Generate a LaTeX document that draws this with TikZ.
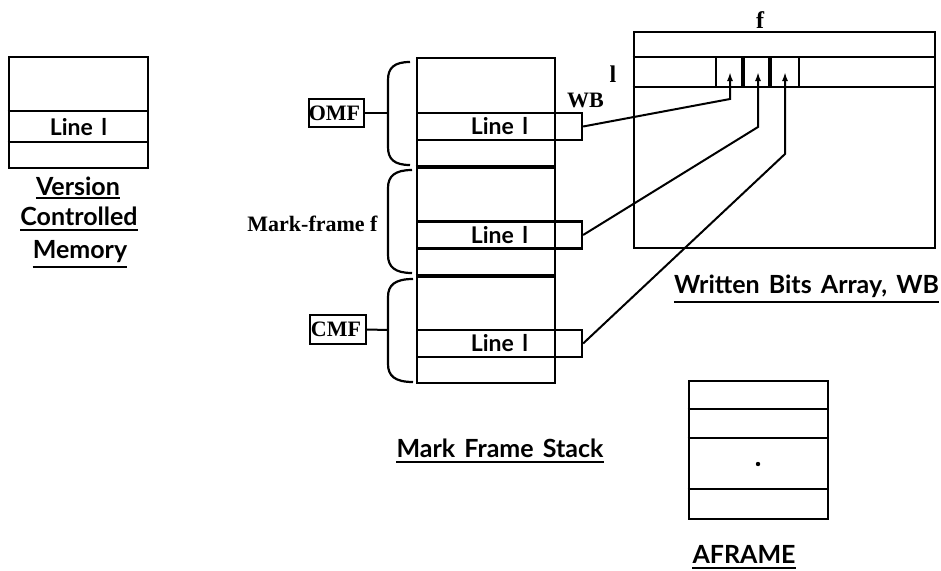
\documentclass[tikz,border=0pt]{standalone}
\usepackage{fontspec}
\setmainfont{Liberation Serif}
\newfontfamily\lab{Lato}[WordSpace=1.2]
\newfontfamily\rowfont{Lato}[WordSpace=1.5]
\usetikzlibrary{arrows.meta}
\tikzset{
  frame/.style={draw, line width=2.8pt, inner sep=0pt},
  sep/.style={line width=3.2pt},
  thin/.style={line width=2.2pt},
  rowbox/.style={draw, line width=2.2pt, minimum width=165pt, minimum height=27pt,
    inner sep=0pt, font=\rowfont\bfseries\fontsize{23}{23}\selectfont},
  tag/.style={draw, line width=2pt, inner sep=0pt, font=\bfseries\fontsize{22}{22}\selectfont},
  serif/.style={inner sep=0pt, font=\bfseries\fontsize{22}{22}\selectfont},
  caption/.style={inner sep=0pt, anchor=base, font=\lab\bfseries\fontsize{25}{25}\selectfont},
  uline/.style={line width=2.4pt},
  brace/.style={line width=2.2pt},
  conn/.style={line width=2pt},
  tip/.style={conn, -{Latex[length=9pt,width=6pt]}}
}
\begin{document}
\begin{tikzpicture}[x=1pt,y=-1pt]
\useasboundingbox (0,0) rectangle (941,570);

% ---- version controlled memory ----
\node[frame, minimum width=139, minimum height=111] (vcm) at (78.5,112.5) {};
\draw[thin] (vcm.west |- 0,111) -- (vcm.east |- 0,111);
\draw[thin] (vcm.west |- 0,142) -- (vcm.east |- 0,142);
\node[inner sep=0pt, font=\rowfont\bfseries\fontsize{23}{23}\selectfont] (vline) at (78.5,127) {Line l};
\node[caption] (v1) at (78,195) {Version};
\node[caption] (v2) at (79,225) {Controlled};
\node[caption] (v3) at (80,258) {Memory};
\draw[uline] (v1.west |- 0,198) -- (v1.east |- 0,198);
\draw[uline] (v2.west |- 0,230) -- (v2.east |- 0,230);
\draw[uline] (v3.west |- 0,267) -- (v3.east |- 0,267);

% ---- mark frame stack ----
\node[frame, minimum width=138, minimum height=325] (stack) at (486,220.5) {};
\draw[sep] (stack.west |- 0,167) -- (stack.east |- 0,167);
\draw[sep] (stack.west |- 0,276) -- (stack.east |- 0,276);
\node[rowbox] (rowA) at (499.5,126.5) {Line l};
\node[rowbox] (rowB) at (499.5,235) {Line l};
\node[rowbox] (rowC) at (499.5,343.5) {Line l};
\node[caption] (mfs) at (500,457) {Mark Frame Stack};
\draw[uline] (mfs.west |- 0,462) -- (mfs.east |- 0,462);

% braces grouping the frames
\draw[brace] (410,62) .. controls (394,62) and (388,68) .. (388,80) -- (388,147)
  .. controls (388,159) and (394,165) .. (410,165);
\draw[brace] (412,170) .. controls (395,170) and (388,176) .. (388,188) -- (388,255)
  .. controls (388,267) and (395,273) .. (412,273);
\draw[brace] (413,279) .. controls (395,279) and (388,285) .. (388,297) -- (388,364)
  .. controls (388,376) and (395,382) .. (413,382);
\coordinate (brA) at (388,113);
\coordinate (brC) at (388,330);

\node[tag, minimum width=55, minimum height=28] (omf) at (336.5,113) {\hspace*{-4pt}OMF};
\node[tag, minimum width=56, minimum height=29] (cmf) at (338,329.5) {\hspace*{-4pt}CMF};
\draw[conn] (omf.east) -- (brA);
\draw[conn] (cmf.east) -- (brC);
\node[serif, anchor=base] (mf) at (312.5,231) {Mark-frame f};
\node[serif, anchor=base] (wblab) at (585.5,107) {WB};

% ---- written bits array ----
\node[frame, minimum width=301, minimum height=216] (wb) at (784.5,140) {};
\draw[frame] (wb.west |- 0,57) -- (wb.east |- 0,57);
\draw[frame] (wb.west |- 0,87) -- (wb.east |- 0,87);
\draw[thin] (716,57) -- (716,87);
\draw[line width=3.6pt] (743,57) -- (743,87);
\draw[line width=3.6pt] (770,57) -- (770,87);
\draw[thin] (799,57) -- (799,87);
\node[serif, anchor=base, font=\bfseries\fontsize{24}{24}\selectfont] (flab) at (760,28) {f};
\node[serif, anchor=base, font=\bfseries\fontsize{24}{24}\selectfont] (llab) at (613,82) {l};
\node[caption] (wbcap) at (806.5,293) {Written Bits Array, WB};
\draw[uline] (wbcap.west |- 0,302) -- (wbcap.east |- 0,302);

\coordinate (c1) at (730,72);
\coordinate (c2) at (758,72);
\coordinate (c3) at (785,72);
\coordinate (b1) at (730,99);
\coordinate (b2) at (758,127);
\coordinate (b3) at (785,154);
\draw[tip] (rowA.east) -- (b1) -- (c1);
\draw[tip] (rowB.east) -- (b2) -- (c2);
\draw[tip] (rowC.east) -- (b3) -- (c3);

% ---- activation frame ----
\node[frame, minimum width=139, minimum height=138] (af) at (758.5,450) {};
\draw[thin] (af.west |- 0,409) -- (af.east |- 0,409);
\draw[thin] (af.west |- 0,438) -- (af.east |- 0,438);
\draw[thin] (af.west |- 0,489) -- (af.east |- 0,489);
\fill (758,464) circle (2.2);
\node[caption] (afcap) at (744,563) {AFRAME};
\draw[uline] (afcap.west |- 0,568) -- (afcap.east |- 0,568);
\end{tikzpicture}
\end{document}
